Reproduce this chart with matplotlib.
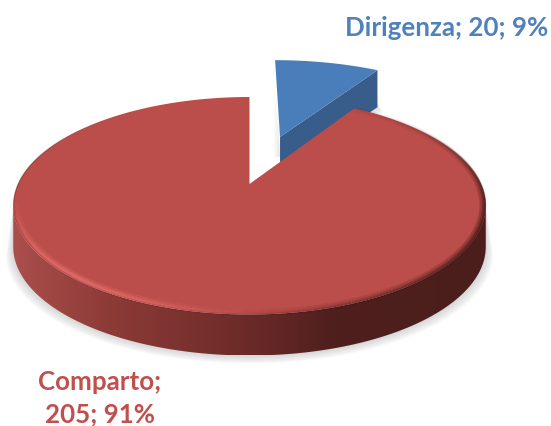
import numpy as np
import matplotlib
matplotlib.use("Agg")
import matplotlib.pyplot as plt
from matplotlib.collections import LineCollection
from matplotlib.colors import LinearSegmentedColormap
from matplotlib.patches import Polygon

categories = ["Dirigenza", "Comparto"]
values = [20, 205]
percents = [9, 91]

# pie placement, perspective
cx, cy = 249.5, 185
scale_x, scale_y = 231.5, 104.4
persp = 0.2
wall_red = 41
wall_blue = 37
blue_shift = (0.145, 0.495)
blue_radius = 1.06

wall_cmap = LinearSegmentedColormap.from_list(
    "wall", [(0, "#ab4f4b"), (0.2, "#8d3b37"), (0.42, "#752f2c"),
             (0.6, "#5c2423"), (0.68, "#4e1f1d"), (1, "#4b1e1c")])


def project(x, y):
    w = 1 + persp * y
    return cx + scale_x * x / w, cy - scale_y * y / w


def rim(deg, radius=1.0, shift=(0, 0)):
    t = np.radians(deg)
    return project(shift[0] + radius * np.sin(t), shift[1] + radius * np.cos(t))


def rim_shade(deg, color, alpha, lw, inset):
    xs, ys = rim(deg, inset)
    pts = np.column_stack([xs, ys]).reshape(-1, 1, 2)
    segs = np.concatenate([pts[:-1], pts[1:]], axis=1)
    cols = np.tile(matplotlib.colors.to_rgba(color), (len(segs), 1))
    cols[:, 3] = alpha[:-1]
    ax.add_collection(LineCollection(segs, colors=cols, linewidths=lw, capstyle="round", zorder=6))


fig = plt.figure(figsize=(5.51, 4.27), dpi=100)
ax = fig.add_axes([0, 0, 1, 1])

blue_sweep = 360 * values[0] / sum(values)

right_end = np.degrees(np.arccos(-persp))
front = np.linspace(right_end, 360 - right_end, 200)
fx, fy = rim(front)

# soft shadow under the disc, front side only
for i in range(10):
    grow = 1 + i * 0.0035
    ax.fill(np.r_[cx + (fx - cx) * grow, fx[::-1]], np.r_[fy + wall_red + i * 0.9, fy[::-1]],
            color="#808080", alpha=0.035, lw=0, zorder=1)

# blue slice, pulled out towards the back
deg = np.linspace(0, blue_sweep, 40)
bx, by = rim(deg, blue_radius, blue_shift)
vx, vy = project(*blue_shift)
for i in range(6):
    ax.fill([vx - 1 - i, vx - 1 - i, vx], [by[0] + 30, vy + 20, vy + 20], color="#808080", alpha=0.03, lw=0, zorder=1)
    ax.fill([bx[-1] - 12, bx[-1] + i + 1, bx[-1] - 12], [by[-1] + 10, by[-1] + 38 + i, by[-1] + 50], color="#808080", alpha=0.04, lw=0, zorder=1)
ax.fill([vx, bx[-1], bx[-1], vx], [vy, by[-1], by[-1] + wall_blue, vy + wall_blue], color="#385d8a", lw=0, zorder=2)
ax.fill(np.r_[vx, bx], np.r_[vy, by], color="#4a7ebb", lw=0, zorder=3)

# red slice: side wall with its left-to-right shading
wall = Polygon(np.column_stack([np.r_[fx, fx[::-1]], np.r_[fy, fy[::-1] + wall_red]]), closed=True, fc="none", ec="none", zorder=4)
ax.add_patch(wall)
shade = np.linspace(0, 1, 256).reshape(1, -1)
im = ax.imshow(shade, extent=[fx.min(), fx.max(), fy.max() + wall_red, fy.min()], aspect="auto",
               cmap=wall_cmap, vmin=0, vmax=1, zorder=4)
im.set_clip_path(wall)

# red slice: top
deg = np.linspace(blue_sweep, 360, 400)
rx, ry = rim(deg)
ax.fill(np.r_[cx, rx], np.r_[cy, ry], color="#bb4e4a", lw=0, zorder=5)

# bevel along the rim
dark = np.exp(-((deg - 120) / 50) ** 2)
for lw, inset, a in [(5, 0.988, 0.08), (3, 0.993, 0.14), (1.5, 0.997, 0.25)]:
    rim_shade(deg, "#3a1412", dark * a, lw, inset)
light = np.exp(-((deg - 215) / 30) ** 2)
for lw, inset, a in [(5, 0.982, 0.10), (3, 0.985, 0.16), (1.5, 0.988, 0.22)]:
    rim_shade(deg, "#f27a75", light * a, lw, inset)
left = np.exp(-((deg - 275) / 28) ** 2)
rim_shade(deg, "#3a1412", left * 0.2, 1.0, 0.999)

# data labels
ax.text(446.5, 28, f"{categories[0]}; {values[0]}; {percents[0]}%", color="#4f81bd", family="Lato",
        weight="bold", fontsize=18.6, ha="center", va="center", zorder=7)
ax.text(100, 398, f"{categories[1]};\n{values[1]}; {percents[1]}%", color="#c0504d", family="Lato",
        weight="bold", fontsize=18.6, ha="center", va="center", linespacing=1.4, zorder=7)

ax.set_xlim(0, 551)
ax.set_ylim(427, 0)
ax.axis("off")
fig.savefig("out.png", dpi=100)
